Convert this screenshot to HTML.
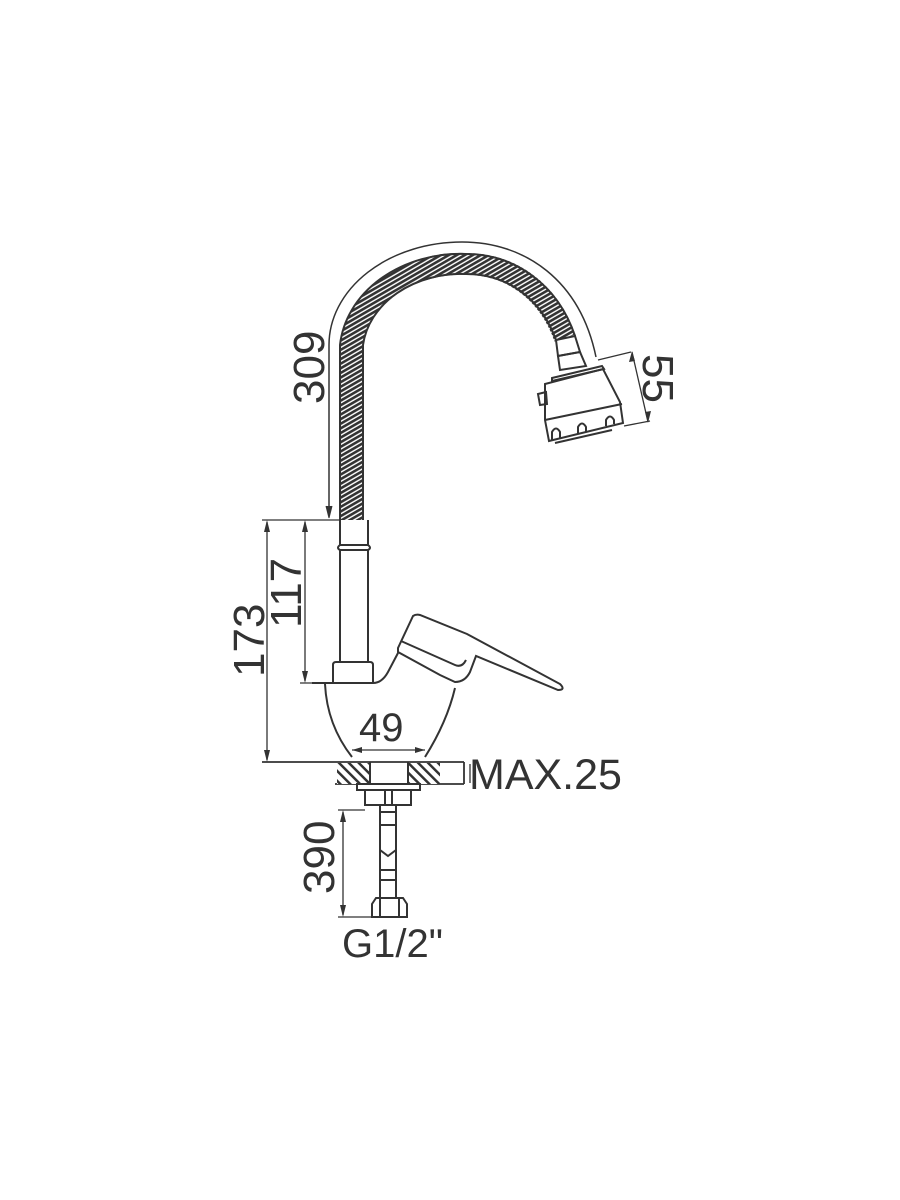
<!DOCTYPE html>
<html><head><meta charset="utf-8"><style>
html,body{margin:0;padding:0;background:#fff;}
svg{display:block;}
text{font-family:"Liberation Sans",sans-serif;fill:#333;}
</style></head><body>
<svg width="900" height="1200" viewBox="0 0 900 1200" xmlns="http://www.w3.org/2000/svg">
<defs>
<pattern id="hs" width="4" height="4" patternUnits="userSpaceOnUse" patternTransform="rotate(60)">
<rect width="4" height="4" fill="#fff"/><rect width="2.6" height="4" fill="#333"/>
</pattern>
<pattern id="hh" width="7" height="7" patternUnits="userSpaceOnUse" patternTransform="rotate(-45)">
<rect width="7" height="7" fill="#fff"/><rect width="2.5" height="7" fill="#333"/>
</pattern>
</defs>
<g fill="none" stroke="#333" stroke-width="2">
<path d="M351.5,520 L351.5,345 A110,90 0 0 1 466,264 C510,264 548,290 565,338" stroke="url(#hs)" stroke-width="22"/>
<path d="M340,520 L340,345 A121,100 0 0 1 466,254 C515,254 558,285 575,336"/>
<path d="M363,520 L363,345 A99,80 0 0 1 466,274 C505,274 540,296 556,340"/>
<path d="M329,516 L329,345 A133,103 0 0 1 462,242 C525,242 580,280 596,357" stroke-width="1.5"/>
<path d="M326,506 L329,518 L332,506" fill="#333" stroke-width="1"/>
<path d="M556,340 L575,336 L580,352 L558,356 Z"/>
<path d="M558,356 L580,352 L586,366 L560,370 Z"/>
<path d="M552,378 L602,366 L604,369 L552,381 Z"/>
<path d="M545,384 L603,369 L620,402 L623,423 L549,441 L545,420 Z"/>
<path d="M545,420 L622,404"/>
<path d="M538,394 L546,392 L547,404 L540,405 Z"/>
<path d="M552,440 L552,432 Q556,425 560,432 L560,438 M578,434 L578,427 Q582,420 586,427 L586,432 M606,426 L606,420 Q610,413 614,420 L614,424"/>
<path d="M555,443 L612,430"/>
<g stroke-width="1.3">
<path d="M598,360 L631,352 M624,426 L650,421 M632,352 L648,422"/>
</g>
<path d="M340,520 L340,545 Q336,548 340,550 L340,662 M368,520 L368,545 Q372,548 368,550 L368,662 M340,545 L368,545 M340,550 L368,550"/>
<path d="M333,683 L333,665 Q333,662 336,662 L370,662 Q373,662 373,665 L373,683"/>
<path d="M312,683 L373,683 Q382,683 388,672 L398,653"/>
<path d="M325,684 Q327,725 352,757"/>
<path d="M455,688 Q447,722 425,757"/>
<path d="M398,648 L413,616 Q416,614 420,615 L467,634 L560,684 Q566,690 558,690 L476,656 L470,672 Q465,682 455,682 L440,675 L398,652 Z"/>
<path d="M401,641 L455,665 Q462,668 466,660"/>
<path d="M262,762 L464,762 M335,784 L464,784 M464,762 L464,784" stroke-width="1.8"/>
<rect x="337" y="763" width="33" height="21" fill="url(#hh)" stroke="none"/>
<rect x="408" y="763" width="32" height="21" fill="url(#hh)" stroke="none"/>
<path d="M370,762 L370,784 M408,762 L408,784"/>
<rect x="357" y="784" width="63" height="6"/>
<rect x="365" y="790" width="46" height="15"/>
<path d="M385,790 L385,805 M392,790 L392,805"/>
<path d="M380,805 L380,898 M396,805 L396,898 M380,812 L396,812 M380,825 L396,825 M380,850 L388,856 L396,850 M380,870 L396,870 M380,880 L396,880"/>
<path d="M372,917 L372,904 L376,898 L403,898 L407,904 L407,917 Z M380,898 L380,917 M399,898 L399,917"/>
<g stroke-width="1.3">
<path d="M262,520 L340,520 M267,522 L267,760 M305,522 L305,681 M300,683 L333,683"/>
<path d="M352,750 L425,750"/>
<path d="M470,764 L470,783"/>
<path d="M338,810 L365,810 M338,917 L372,917 M343,812 L343,915"/>
</g>
</g>
<g fill="#333">
<path d="M264,532 L267,520 L270,532Z M264,750 L267,762 L270,750Z M302,532 L305,520 L308,532Z M302,671 L305,683 L308,671Z"/>
<path d="M362,747 L352,750 L362,753Z M415,747 L425,750 L415,753Z"/>
<path d="M629,362 L632,351 L635,361Z M645,412 L648,423 L651,411Z"/>
<path d="M340,822 L343,810 L346,822Z M340,905 L343,917 L346,905Z"/>
</g>
<text x="0" y="0" font-size="44" transform="translate(324,404) rotate(-90)">309</text>
<text x="0" y="0" font-size="44" transform="translate(264,677) rotate(-90)">173</text>
<text x="0" y="0" font-size="44" transform="translate(301,628) rotate(-90)">117</text>
<text x="0" y="0" font-size="44" transform="translate(643,354) rotate(90)">55</text>
<text x="0" y="0" font-size="44" transform="translate(334,894) rotate(-90)">390</text>
<text x="359" y="741" font-size="40">49</text>
<text x="469" y="789" font-size="43">MAX.25</text>
<text x="342" y="957" font-size="40">G1/2"</text>
</svg>
</body></html>
